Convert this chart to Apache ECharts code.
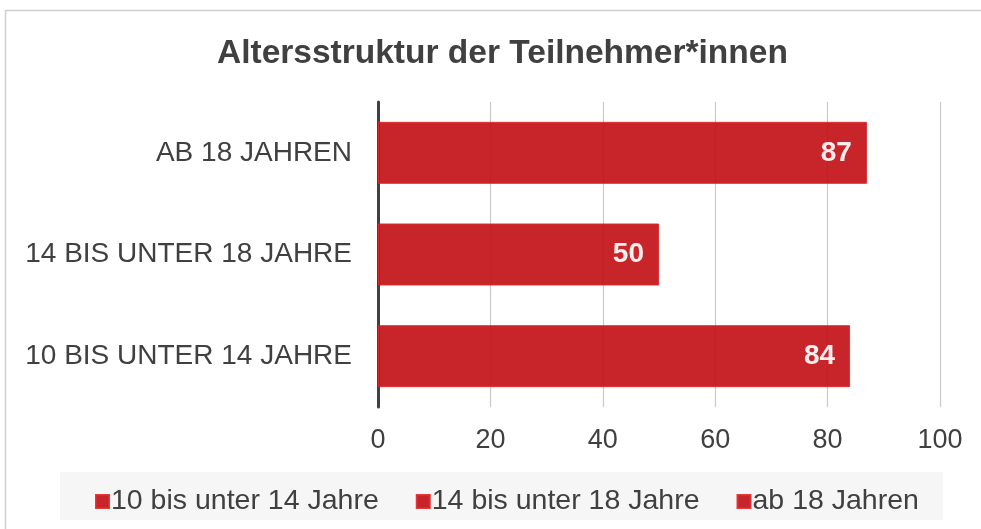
<!DOCTYPE html>
<html>
<head>
<meta charset="utf-8">
<script src="https://cdn.jsdelivr.net/npm/echarts@6/dist/echarts.min.js"></script>
<style>
  html, body { margin: 0; padding: 0; background: #fff; }
  #chart { width: 981px; height: 529px; }
</style>
</head>
<body>
<div id="chart"></div>
<script>
  // Daten
  const categories = ['10 BIS UNTER 14 JAHRE', '14 BIS UNTER 18 JAHRE', 'AB 18 JAHREN']
  const seriesNames = ['10 bis unter 14 Jahre', '14 bis unter 18 Jahre', 'ab 18 Jahren']
  const values = [84, 50, 87]
  const xTicks = [0, 20, 40, 60, 80, 100]

  const red = '#C31218'
  const textColor = '#404040'

  // je Kategorie eine eigene Serie, damit die Legende drei Einträge hat
  const series = seriesNames.map((name, i) => ({
    name: name,
    type: 'bar',
    stack: 'all',
    barCategoryGap: '39%',
    data: categories.map((c, j) => (j === i ? values[i] : '-')),
    itemStyle: { color: red, opacity: 0.92, borderColor: '#e02a2e', borderWidth: 1 },
    label: {
      show: true,
      position: 'insideRight',
      distance: 15,
      color: '#fff',
      fontWeight: 'bold',
      fontSize: 28,
      fontFamily: 'Liberation Sans'
    }
  }))

  let chart = echarts.init(document.getElementById('chart'), null, { renderer: 'canvas' })
  chart.setOption({
    animation: false,
    textStyle: { fontFamily: 'Liberation Sans' },
    title: {
      text: 'Altersstruktur der Teilnehmer*innen',
      left: 212,
      top: 32,
      textStyle: { color: textColor, fontSize: 33.5, fontWeight: 'bold', fontFamily: 'Liberation Sans' }
    },
    graphic: [
      {
        type: 'rect',
        shape: { x: 5.5, y: 10.5, width: 1000, height: 600 },
        style: { fill: 'none', stroke: '#d0d0d0', lineWidth: 1.5 },
        z: -10
      },
      {
        type: 'rect',
        shape: { x: 60, y: 472, width: 883, height: 48 },
        style: { fill: '#f6f6f6' },
        z: -5
      }
    ],
    legend: {
      data: seriesNames,
      left: 90,
      top: 482,
      itemWidth: 13,
      itemHeight: 13,
      itemGap: 37,
      icon: 'rect',
      textStyle: { color: textColor, fontSize: 28.5, padding: [0, 0, 0, -3] }
    },
    grid: { left: 378, right: 41, top: 102, bottom: 122, containLabel: false },
    xAxis: {
      type: 'value',
      min: 0,
      max: 100,
      interval: 20,
      axisLine: { show: false },
      axisTick: { show: false },
      axisLabel: {
        color: textColor,
        fontSize: 27,
        margin: 20,
        formatter: v => (xTicks.includes(v) ? String(v) : '')
      },
      splitLine: { show: true, lineStyle: { color: '#c8c8c8', width: 1.2 } }
    },
    yAxis: {
      type: 'category',
      data: categories,
      axisLine: { show: true, lineStyle: { color: textColor, width: 3 } },
      axisTick: { show: false },
      axisLabel: { color: textColor, fontSize: 28, margin: 26 }
    },
    series: series
  })
</script>
</body>
</html>
